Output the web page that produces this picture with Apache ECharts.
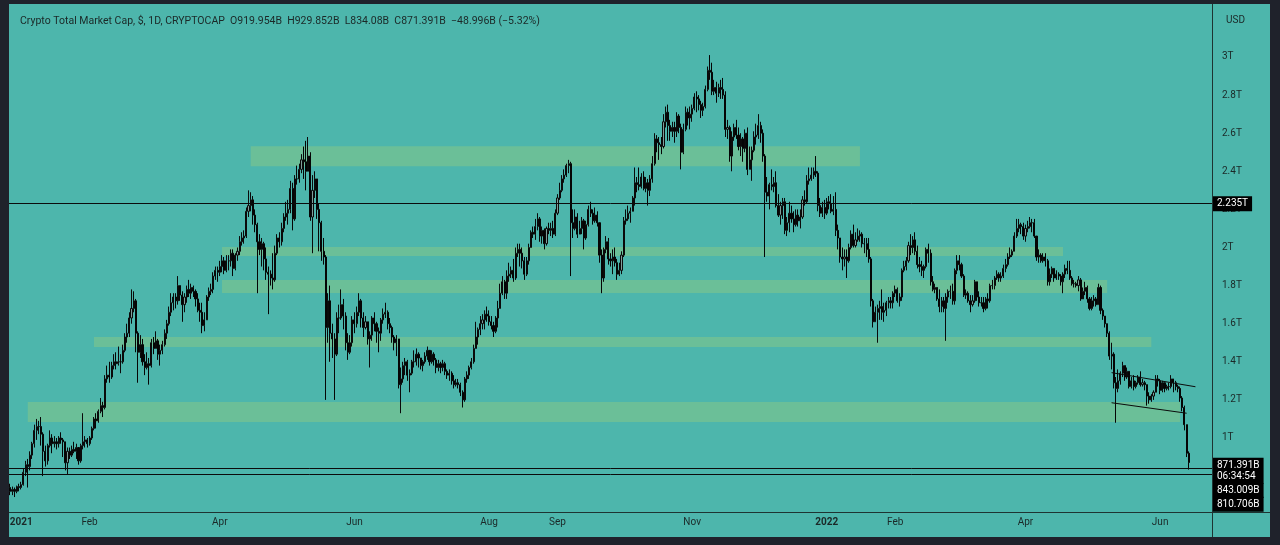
<!DOCTYPE html>
<html><head><meta charset="utf-8">
<script src="https://cdn.jsdelivr.net/npm/echarts@6/dist/echarts.min.js"></script>
<style>
html,body{margin:0;padding:0;background:#1f222b;width:1280px;height:545px;overflow:hidden}
#panel{position:absolute;left:9px;top:4px;width:1261px;height:533px;background:#4db6ac}
#chart{position:absolute;left:0;top:0;width:1280px;height:545px}
.hl{position:absolute;left:9px;width:1261px;top:512px;height:1px;background:#1e3432}
.vl{position:absolute;left:1212px;top:4px;width:1px;height:533px;background:#1e3432}
</style></head><body>
<div id="panel"></div><div class="hl"></div><div class="vl"></div>
<div id="chart"></div>
<script>
// ---- data (values in trillions USD); each candle: [close, high, low], open = previous close ----
const firstOpen = 0.74;
const dec2020 = [[.72,.76,.70],[.73,.745,.70],[.72,.74,.69],[.745,.75,.71],[.74,.76,.72]];
const jan2021 = [[.755,.77,.73],[.82,.84,.75],[.86,.88,.80],[.85,.89,.74],[.91,.93,.83],[.97,.98,.89],[1.04,1.07,.95],[1.06,1.10,.99],[1.06,1.09,1.02],[1.02,1.11,.96],[.93,1.03,.80],[.88,.96,.85],[.96,.97,.86],[1.00,1.04,.95],[.97,1.02,.92],[.98,1.01,.95],[.97,1.00,.94],[1.00,1.01,.95],[.99,1.03,.97],[.98,1.00,.90],[.87,.98,.83],[.93,.95,.81],[.91,.95,.89],[.94,.96,.90],[.93,.98,.92],[.95,.97,.89],[.88,.95,.86],[.96,.97,.87],[.98,1.13,.94],[.99,1.01,.95],[.97,1.00,.95]];
const feb2021 = [[1.00,1.01,.96],[1.05,1.06,.99],[1.10,1.11,1.04],[1.09,1.13,1.05],[1.14,1.15,1.08],[1.17,1.21,1.13],[1.16,1.19,1.11],[1.31,1.33,1.15],[1.33,1.38,1.29],[1.32,1.40,1.29],[1.38,1.40,1.31],[1.40,1.44,1.36],[1.39,1.45,1.36],[1.40,1.48,1.38],[1.40,1.44,1.34],[1.46,1.49,1.39],[1.53,1.55,1.45],[1.55,1.60,1.50],[1.63,1.66,1.53],[1.68,1.78,1.60],[1.72,1.77,1.66],[1.55,1.73,1.45],[1.45,1.56,1.29],[1.49,1.54,1.42],[1.40,1.52,1.38],[1.37,1.44,1.33],[1.39,1.45,1.36],[1.38,1.42,1.28]];
const mar2021 = [[1.50,1.52,1.37],[1.47,1.53,1.44],[1.51,1.56,1.47],[1.44,1.52,1.41],[1.46,1.49,1.38],[1.49,1.51,1.44],[1.55,1.57,1.48],[1.60,1.62,1.52],[1.66,1.69,1.59],[1.71,1.76,1.64],[1.74,1.76,1.67],[1.72,1.76,1.68],[1.80,1.85,1.70],[1.75,1.80,1.72],[1.70,1.77,1.61],[1.74,1.76,1.66],[1.78,1.80,1.71],[1.76,1.83,1.74],[1.79,1.81,1.73],[1.77,1.80,1.74],[1.73,1.78,1.69],[1.67,1.76,1.66],[1.66,1.71,1.61],[1.59,1.71,1.55],[1.62,1.66,1.56],[1.74,1.75,1.62],[1.77,1.79,1.72],[1.78,1.81,1.75],[1.85,1.87,1.76],[1.88,1.90,1.83],[1.87,1.90,1.82]];
const apr2021 = [[1.90,1.93,1.85],[1.93,1.96,1.87],[1.88,1.95,1.86],[1.93,1.96,1.87],[1.93,1.96,1.88],[1.97,1.99,1.90],[1.89,1.99,1.85],[1.96,1.97,1.88],[1.98,2.00,1.93],[2.03,2.06,1.96],[2.05,2.08,2.01],[2.06,2.09,2.02],[2.19,2.21,2.05],[2.22,2.30,2.16],[2.25,2.29,2.19],[2.17,2.27,2.12],[2.12,2.20,2.08],[2.03,2.13,1.76],[1.99,2.07,1.96],[2.02,2.05,1.90],[1.94,2.03,1.88],[1.87,2.00,1.83],[1.86,1.90,1.65],[1.84,1.88,1.80],[1.83,1.97,1.78],[1.97,2.01,1.82],[2.05,2.07,1.96],[2.03,2.08,2.00],[2.10,2.13,2.01],[2.16,2.18,2.08]];
const may2021 = [[2.18,2.24,2.14],[2.20,2.25,2.12],[2.31,2.35,2.18],[2.15,2.34,2.09],[2.36,2.38,2.14],[2.36,2.43,2.33],[2.41,2.44,2.34],[2.46,2.49,2.39],[2.45,2.53,2.36],[2.40,2.56,2.30],[2.48,2.58,2.40],[2.16,2.50,2.14],[2.30,2.38,1.97],[2.36,2.40,2.26],[2.20,2.36,2.15],[2.13,2.23,1.98],[1.98,2.14,1.93],[1.95,2.05,1.91],[1.58,1.96,1.20],[1.72,1.76,1.50],[1.55,1.80,1.40],[1.52,1.60,1.42],[1.44,1.55,1.20],[1.63,1.66,1.43],[1.63,1.70,1.55],[1.70,1.78,1.62],[1.64,1.73,1.57],[1.50,1.66,1.46],[1.45,1.55,1.41],[1.50,1.54,1.44],[1.62,1.64,1.48]];
const jun2021 = [[1.60,1.66,1.55],[1.66,1.69,1.58],[1.72,1.76,1.64],[1.63,1.73,1.58],[1.58,1.66,1.53],[1.61,1.64,1.57],[1.52,1.61,1.49],[1.54,1.56,1.37],[1.63,1.64,1.51],[1.60,1.66,1.56],[1.56,1.61,1.50],[1.55,1.58,1.45],[1.62,1.63,1.51],[1.65,1.68,1.60],[1.66,1.71,1.63],[1.60,1.67,1.57],[1.58,1.63,1.55],[1.53,1.59,1.50],[1.50,1.54,1.46],[1.52,1.54,1.43],[1.28,1.52,1.26],[1.31,1.37,1.13],[1.38,1.40,1.29],[1.40,1.42,1.33],[1.33,1.41,1.30],[1.34,1.36,1.24],[1.40,1.41,1.33],[1.40,1.46,1.37],[1.44,1.47,1.38],[1.42,1.45,1.37]];
const jul2021 = [[1.38,1.42,1.36],[1.40,1.41,1.35],[1.43,1.45,1.39],[1.46,1.48,1.41],[1.40,1.46,1.38],[1.44,1.46,1.39],[1.41,1.45,1.38],[1.37,1.42,1.34],[1.39,1.41,1.35],[1.37,1.40,1.34],[1.39,1.41,1.35],[1.35,1.40,1.33],[1.33,1.36,1.31],[1.34,1.36,1.30],[1.30,1.35,1.28],[1.28,1.33,1.26],[1.29,1.31,1.27],[1.28,1.31,1.26],[1.24,1.29,1.22],[1.20,1.25,1.16],[1.31,1.32,1.19],[1.33,1.35,1.29],[1.37,1.38,1.31],[1.40,1.42,1.36],[1.47,1.49,1.39],[1.53,1.61,1.48],[1.57,1.58,1.49],[1.60,1.64,1.54],[1.62,1.65,1.57],[1.65,1.67,1.57],[1.64,1.69,1.61]];
const aug2021 = [[1.61,1.67,1.59],[1.59,1.64,1.57],[1.56,1.61,1.53],[1.63,1.64,1.55],[1.68,1.72,1.58],[1.76,1.81,1.68],[1.82,1.85,1.75],[1.76,1.83,1.73],[1.85,1.88,1.73],[1.86,1.92,1.82],[1.88,1.90,1.84],[1.84,1.94,1.82],[1.97,2.00,1.83],[1.99,2.02,1.95],[1.97,2.02,1.90],[1.93,2.00,1.89],[1.86,1.95,1.83],[1.93,1.95,1.85],[2.00,2.02,1.91],[2.08,2.09,2.00],[2.07,2.11,2.05],[2.11,2.15,2.04],[2.15,2.18,2.09],[2.06,2.16,2.03],[2.09,2.11,2.02],[2.02,2.10,1.99],[2.10,2.11,2.01],[2.09,2.13,2.07],[2.10,2.13,2.06],[2.07,2.14,2.05],[2.18,2.20,2.06]];
const sep2021 = [[2.26,2.28,2.17],[2.30,2.34,2.25],[2.36,2.38,2.29],[2.38,2.41,2.34],[2.43,2.44,2.37],[2.44,2.46,2.39],[2.13,2.45,1.85],[2.10,2.20,2.05],[2.16,2.20,2.09],[2.07,2.18,2.05],[2.10,2.14,2.07],[2.14,2.16,2.07],[2.05,2.15,1.99],[2.12,2.14,2.04],[2.20,2.22,2.11],[2.18,2.24,2.16],[2.14,2.20,2.12],[2.17,2.21,2.13],[2.13,2.19,2.11],[1.96,2.13,1.92],[1.84,1.99,1.76],[1.99,2.00,1.82],[2.03,2.06,1.97],[1.94,2.05,1.91],[1.93,1.97,1.90],[1.95,1.99,1.86],[1.92,2.00,1.90],[1.86,1.94,1.83],[1.88,1.92,1.85],[1.96,1.98,1.86]];
const oct2021 = [[2.14,2.16,1.95],[2.15,2.20,2.12],[2.18,2.22,2.14],[2.19,2.21,2.13],[2.26,2.27,2.19],[2.34,2.42,2.22],[2.33,2.37,2.29],[2.32,2.42,2.30],[2.37,2.39,2.31],[2.31,2.40,2.30],[2.34,2.37,2.29],[2.30,2.36,2.22],[2.36,2.38,2.27],[2.44,2.48,2.34],[2.57,2.60,2.43],[2.55,2.59,2.50],[2.54,2.58,2.46],[2.53,2.58,2.49],[2.66,2.70,2.52],[2.71,2.74,2.63],[2.64,2.75,2.56],[2.61,2.67,2.56],[2.63,2.66,2.58],[2.61,2.66,2.55],[2.69,2.71,2.58],[2.63,2.70,2.60],[2.50,2.65,2.41],[2.62,2.65,2.49],[2.71,2.74,2.61],[2.68,2.73,2.64],[2.70,2.74,2.62]];
const nov2021 = [[2.73,2.75,2.66],[2.79,2.81,2.72],[2.78,2.82,2.71],[2.75,2.80,2.72],[2.72,2.77,2.68],[2.74,2.76,2.69],[2.83,2.85,2.73],[2.93,2.95,2.82],[2.92,3.01,2.88],[2.82,2.97,2.80],[2.84,2.88,2.80],[2.81,2.87,2.76],[2.84,2.86,2.79],[2.83,2.88,2.78],[2.80,2.89,2.78],[2.62,2.82,2.58],[2.63,2.67,2.57],[2.48,2.64,2.45],[2.58,2.61,2.40],[2.63,2.65,2.56],[2.59,2.67,2.57],[2.53,2.63,2.51],[2.57,2.60,2.48],[2.52,2.58,2.45],[2.60,2.62,2.50],[2.41,2.63,2.38],[2.46,2.53,2.42],[2.51,2.53,2.35],[2.58,2.61,2.50],[2.59,2.65,2.54]];
const dec2021 = [[2.64,2.70,2.57],[2.60,2.66,2.55],[2.48,2.62,2.45],[2.29,2.49,1.95],[2.27,2.37,2.24],[2.33,2.34,2.20],[2.32,2.41,2.30],[2.34,2.37,2.29],[2.22,2.40,2.21],[2.17,2.28,2.16],[2.22,2.24,2.12],[2.24,2.26,2.15],[2.09,2.26,2.07],[2.13,2.16,2.06],[2.18,2.24,2.08],[2.15,2.22,2.13],[2.12,2.19,2.08],[2.17,2.20,2.11],[2.14,2.20,2.11],[2.16,2.20,2.10],[2.25,2.27,2.15],[2.24,2.30,2.22],[2.35,2.38,2.23],[2.36,2.42,2.33],[2.38,2.42,2.35],[2.40,2.42,2.36],[2.39,2.48,2.37],[2.22,2.40,2.19],[2.18,2.26,2.16],[2.21,2.24,2.16],[2.18,2.25,2.15]];
const jan2022 = [[2.24,2.26,2.17],[2.23,2.27,2.20],[2.19,2.28,2.18],[2.20,2.27,2.17],[2.09,2.29,2.06],[2.05,2.12,1.99],[1.95,2.05,1.92],[1.94,2.00,1.88],[1.95,1.99,1.90],[1.93,1.99,1.84],[2.00,2.02,1.92],[2.07,2.09,1.99],[2.01,2.12,2.00],[2.04,2.08,2.00],[2.06,2.10,2.03],[2.07,2.09,2.03],[2.02,2.08,2.00],[2.02,2.05,1.97],[1.99,2.05,1.95],[1.94,2.05,1.92],[1.72,1.95,1.69],[1.61,1.73,1.58],[1.66,1.69,1.61],[1.68,1.70,1.50],[1.69,1.72,1.62],[1.66,1.78,1.62],[1.67,1.71,1.61],[1.71,1.72,1.64],[1.72,1.74,1.68],[1.71,1.74,1.68],[1.76,1.77,1.68]];
const feb2022 = [[1.78,1.80,1.74],[1.72,1.79,1.71],[1.74,1.76,1.69],[1.88,1.89,1.72],[1.90,1.93,1.87],[1.93,1.95,1.88],[2.01,2.03,1.92],[2.00,2.07,1.96],[2.04,2.06,1.97],[1.98,2.08,1.96],[1.91,2.01,1.89],[1.90,1.95,1.87],[1.88,1.93,1.85],[1.90,1.91,1.84],[1.99,2.00,1.89],[1.97,2.02,1.92],[1.82,1.99,1.80],[1.78,1.85,1.77],[1.79,1.81,1.76],[1.73,1.79,1.72],[1.69,1.78,1.66],[1.72,1.74,1.66],[1.68,1.74,1.66],[1.74,1.76,1.51],[1.77,1.78,1.71],[1.77,1.80,1.73],[1.72,1.81,1.70],[1.88,1.89,1.70]];
const mar2022 = [[1.93,1.96,1.86],[1.91,1.96,1.88],[1.85,1.92,1.84],[1.75,1.86,1.74],[1.76,1.78,1.73],[1.72,1.77,1.71],[1.70,1.75,1.66],[1.72,1.75,1.69],[1.82,1.83,1.71],[1.74,1.82,1.72],[1.71,1.77,1.69],[1.71,1.74,1.69],[1.68,1.74,1.66],[1.73,1.74,1.67],[1.72,1.76,1.68],[1.80,1.81,1.71],[1.80,1.83,1.78],[1.84,1.85,1.78],[1.86,1.88,1.83],[1.84,1.87,1.82],[1.85,1.87,1.82],[1.89,1.91,1.84],[1.91,1.94,1.87],[1.95,1.97,1.90],[1.96,2.00,1.94],[1.98,1.99,1.95],[2.06,2.08,1.98],[2.10,2.15,2.05],[2.12,2.15,2.08],[2.11,2.13,2.07],[2.06,2.13,2.04]];
const apr2022 = [[2.10,2.12,2.03],[2.11,2.14,2.08],[2.13,2.16,2.10],[2.13,2.15,2.08],[2.06,2.15,2.05],[1.95,2.06,1.93],[1.96,1.99,1.92],[1.93,1.97,1.92],[1.95,1.97,1.92],[1.93,1.97,1.90],[1.82,1.94,1.80],[1.86,1.89,1.80],[1.89,1.90,1.84],[1.84,1.89,1.82],[1.86,1.88,1.83],[1.85,1.87,1.83],[1.82,1.86,1.80],[1.86,1.87,1.76],[1.89,1.91,1.84],[1.88,1.93,1.86],[1.84,1.93,1.83],[1.81,1.85,1.80],[1.81,1.83,1.79],[1.80,1.82,1.79],[1.83,1.85,1.77],[1.73,1.84,1.72],[1.77,1.79,1.73],[1.79,1.82,1.75],[1.73,1.80,1.71],[1.68,1.74,1.67]];
const may2022 = [[1.72,1.74,1.67],[1.73,1.75,1.69],[1.70,1.74,1.69],[1.79,1.81,1.70],[1.67,1.80,1.65],[1.64,1.68,1.62],[1.60,1.64,1.58],[1.55,1.60,1.53],[1.43,1.56,1.41],[1.44,1.50,1.36],[1.29,1.45,1.26],[1.26,1.32,1.08],[1.30,1.36,1.24],[1.34,1.35,1.28],[1.38,1.40,1.32],[1.32,1.38,1.30],[1.35,1.37,1.31],[1.27,1.35,1.26],[1.30,1.32,1.26],[1.27,1.33,1.25],[1.29,1.30,1.26],[1.32,1.33,1.28],[1.28,1.35,1.27],[1.29,1.31,1.27],[1.28,1.30,1.25],[1.22,1.28,1.17],[1.20,1.24,1.18],[1.22,1.23,1.19],[1.24,1.25,1.20],[1.31,1.33,1.24],[1.30,1.33,1.27]];
const jun2022 = [[1.25,1.31,1.23],[1.29,1.30,1.24],[1.26,1.29,1.24],[1.27,1.28,1.25],[1.27,1.29,1.25],[1.31,1.33,1.26],[1.29,1.31,1.24],[1.27,1.30,1.25],[1.26,1.28,1.24],[1.21,1.27,1.19],[1.16,1.22,1.14],[1.07,1.17,1.04],[0.919954,1.07,0.90],[0.871391,0.929852,0.83408]];

// horizontal levels and drawings
const levelLines = [2.235, 0.843009, 0.810706];
const levelLabels = ['2.235T', '843.009B', '810.706B'];
const lastPrice = 0.871391;
const lastPriceLabel = '871.391B\n06:34:54';
const zones = [
  ['2021-04-15','2022-01-16',2.426,2.532],
  ['2021-04-02','2022-04-18',1.955,2.003],
  ['2021-04-02','2022-05-08',1.761,1.829],
  ['2021-02-03','2022-05-28',1.478,1.530],
  ['2021-01-04','2022-06-10',1.084,1.189]
];
const trendUpper = [['2022-05-10',1.343],['2022-06-17',1.269]];
const trendLower = [['2022-05-10',1.185],['2022-06-13',1.130]];
const yTicks = [1,1.2,1.4,1.6,1.8,2,2.2,2.4,2.6,2.8,3];
const xTickDates = ['2021-01-01','2021-02-01','2021-04-01','2021-06-01','2021-08-01','2021-09-01','2021-11-01','2022-01-01','2022-02-01','2022-04-01','2022-06-01'];
const xTickLabels = ['2021','Feb','Apr','Jun','Aug','Sep','Nov','2022','Feb','Apr','Jun'];
const headerText = 'Crypto Total Market Cap, $, 1D, CRYPTOCAP  O919.954B  H929.852B  L834.08B  C871.391B  \u221248.996B (\u22125.32%)';

// ---- build ----
const candles = [].concat(dec2020, jan2021, feb2021, mar2021, apr2021, may2021, jun2021, jul2021, aug2021, sep2021, oct2021, nov2021, dec2021, jan2022, feb2022, mar2022, apr2022, may2022, jun2022);
const N = 545;
const cats = [];
let t = Date.UTC(2020, 11, 27);
for (let i = 0; i < N; i++) { cats.push(new Date(t).toISOString().slice(0, 10)); t += 86400000; }
const ohlc = candles.map((c, i) => {
  const o = i ? candles[i - 1][0] : firstOpen;
  const cl = c[0];
  return [o, cl, Math.min(c[2], o, cl), Math.max(c[1], o, cl)];
});

const yMin = 0.6115, yMax = 3.2782;
const txt = '#1b2827';
const boxLabel = (text, dy) => ({ show: true, position: 'end', distance: 1, formatter: text, color: '#fff', backgroundColor: '#000', padding: [2, 4, 2, 4], fontSize: 10, fontFamily: 'Roboto', lineHeight: 11, offset: [0, dy] });

const chart = echarts.init(document.getElementById('chart'), null, { renderer: 'canvas' });
chart.setOption({
  animation: false,
  backgroundColor: 'transparent',
  title: [
    { text: headerText, left: 15, top: 11, textStyle: { fontSize: 10.5, fontWeight: 'normal', color: txt, fontFamily: 'Roboto' } },
    { text: 'USD', left: 1221, top: 10, textStyle: { fontSize: 10, fontWeight: 'normal', color: txt, fontFamily: 'Roboto' } }
  ],
  grid: { left: 9, right: 68, top: 4, bottom: 33 },
  xAxis: {
    type: 'category', data: cats, boundaryGap: true,
    axisLine: { show: false }, axisTick: { show: false }, splitLine: { show: false },
    axisLabel: {
      interval: (idx, val) => xTickDates.indexOf(val) >= 0,
      formatter: (val) => { const k = xTickDates.indexOf(val); if (k < 0) return ''; const s = xTickLabels[k]; return /^\d{4}$/.test(s) ? '{b|' + s + '}' : s; },
      color: txt, fontSize: 10, fontFamily: 'Roboto', margin: 5,
      rich: { b: { fontWeight: 'bold', fontSize: 10, color: txt, fontFamily: 'Roboto' } }
    }
  },
  yAxis: {
    type: 'value', position: 'right', min: yMin, max: yMax, scale: true,
    axisLine: { show: false }, axisTick: { show: false }, splitLine: { show: false },
    axisLabel: { customValues: yTicks, formatter: (v) => (+v.toFixed(1)) + 'T', color: txt, fontSize: 10, fontFamily: 'Roboto', margin: 10 }
  },
  series: [
    {
      type: 'line', data: [], z: 1, silent: true,
      markArea: {
        silent: true,
        itemStyle: { color: '#6bbf98', opacity: 1 },
        data: zones.map(z => [{ xAxis: z[0], yAxis: z[2] }, { xAxis: z[1], yAxis: z[3] }])
      }
    },
    {
      type: 'candlestick', data: ohlc, z: 3, barWidth: '72%',
      itemStyle: { color: '#7f9f9b', color0: '#050505', borderColor: '#0a0a0a', borderColor0: '#050505', borderWidth: 1 },
      markLine: {
        silent: true, symbol: 'none', animation: false,
        lineStyle: { color: '#0b0b0b', width: 1, type: 'solid' },
        data: [
          { yAxis: levelLines[0], label: boxLabel(levelLabels[0], 0) },
          { yAxis: levelLines[1], label: boxLabel(levelLabels[1], 22) },
          { yAxis: levelLines[2], label: boxLabel(levelLabels[2], 30) },
          { yAxis: lastPrice, lineStyle: { color: 'rgba(0,0,0,0)', width: 1 }, label: boxLabel(lastPriceLabel, 8) },
          [{ coord: trendUpper[0], label: { show: false } }, { coord: trendUpper[1] }],
          [{ coord: trendLower[0], label: { show: false } }, { coord: trendLower[1] }]
        ]
      }
    }
  ]
});
</script>
</body></html>
